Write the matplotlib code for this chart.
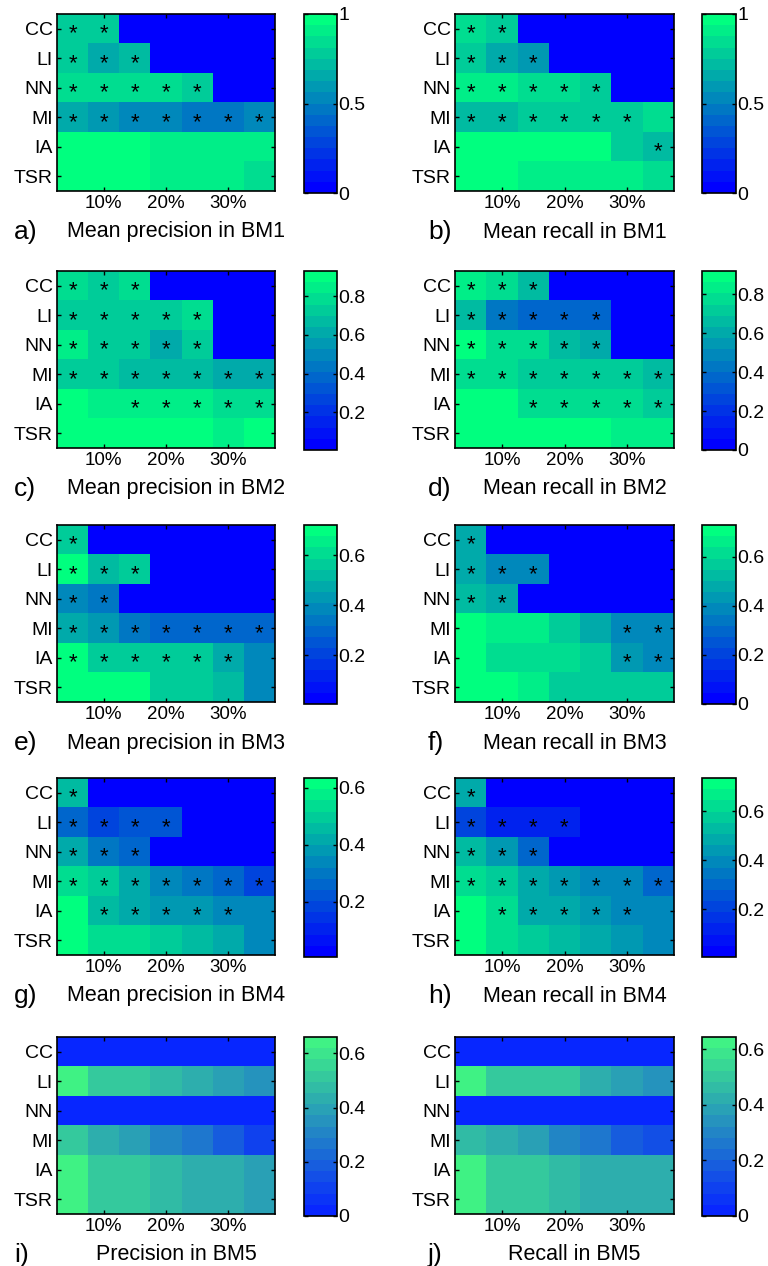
import numpy as np
import matplotlib
matplotlib.use("Agg")
import matplotlib.pyplot as plt
from matplotlib.colors import LinearSegmentedColormap

plt.rcParams["font.family"] = ["Liberation Sans", "DejaVu Sans"]

W, H = 768, 1266
ROWS = ["CC", "LI", "NN", "MI", "IA", "TSR"]
PCT = [5, 10, 15, 20, 25, 30, 35]          # column positions (% of ...)

# ---- values (rows CC..TSR, columns 5%..35%) ----
a_vals = [[0.80, 0.80, 0, 0, 0, 0, 0],
          [0.75, 0.68, 0.70, 0, 0, 0, 0],
          [0.85, 0.85, 0.83, 0.83, 0.78, 0, 0],
          [0.68, 0.60, 0.50, 0.50, 0.45, 0.45, 0.50],
          [1.00, 1.00, 1.00, 0.93, 0.93, 0.93, 0.88],
          [1.00, 1.00, 1.00, 0.93, 0.93, 0.93, 0.85]]
a_star = [[1, 1, 0, 0, 0, 0, 0], [1, 1, 1, 0, 0, 0, 0], [1, 1, 1, 1, 1, 0, 0],
          [1, 1, 1, 1, 1, 1, 1], [0] * 7, [0] * 7]

b_vals = [[0.85, 0.78, 0, 0, 0, 0, 0],
          [0.75, 0.68, 0.60, 0, 0, 0, 0],
          [0.88, 0.88, 0.85, 0.85, 0.75, 0, 0],
          [0.72, 0.72, 0.80, 0.80, 0.80, 0.80, 0.85],
          [1.00, 1.00, 0.95, 0.95, 0.95, 0.80, 0.70],
          [1.00, 1.00, 0.93, 0.93, 0.93, 0.93, 0.85]]
b_star = [[1, 1, 0, 0, 0, 0, 0], [1, 1, 1, 0, 0, 0, 0], [1, 1, 1, 1, 1, 0, 0],
          [1, 1, 1, 1, 1, 1, 0], [0, 0, 0, 0, 0, 0, 1], [0] * 7]

c_vals = [[0.78, 0.72, 0.80, 0, 0, 0, 0],
          [0.70, 0.70, 0.70, 0.70, 0.80, 0, 0],
          [0.82, 0.75, 0.75, 0.62, 0.70, 0, 0],
          [0.72, 0.72, 0.68, 0.68, 0.68, 0.62, 0.62],
          [0.92, 0.85, 0.85, 0.85, 0.85, 0.78, 0.78],
          [0.93, 0.93, 0.93, 0.93, 0.93, 0.85, 0.93]]
c_star = [[1, 1, 1, 0, 0, 0, 0], [1, 1, 1, 1, 1, 0, 0], [1, 1, 1, 1, 1, 0, 0],
          [1, 1, 1, 1, 1, 1, 1], [0, 0, 1, 1, 1, 1, 1], [0] * 7]

d_vals = [[0.82, 0.75, 0.68, 0, 0, 0, 0],
          [0.65, 0.42, 0.38, 0.40, 0.40, 0, 0],
          [0.90, 0.78, 0.75, 0.68, 0.62, 0, 0],
          [0.75, 0.75, 0.72, 0.72, 0.72, 0.72, 0.65],
          [0.88, 0.88, 0.80, 0.80, 0.80, 0.80, 0.70],
          [0.88, 0.88, 0.92, 0.92, 0.92, 0.85, 0.85]]
d_star = c_star

e_vals = [[0.55, 0, 0, 0, 0, 0, 0],
          [0.70, 0.52, 0.55, 0, 0, 0, 0],
          [0.40, 0.35, 0, 0, 0, 0, 0],
          [0.48, 0.42, 0.35, 0.30, 0.30, 0.28, 0.30],
          [0.68, 0.55, 0.55, 0.55, 0.55, 0.48, 0.38],
          [0.70, 0.70, 0.70, 0.58, 0.58, 0.50, 0.38]]
e_star = [[1, 0, 0, 0, 0, 0, 0], [1, 1, 1, 0, 0, 0, 0], [1, 1, 0, 0, 0, 0, 0],
          [1, 1, 1, 1, 1, 1, 1], [1, 1, 1, 1, 1, 1, 0], [0] * 7]

f_vals = [[0.48, 0, 0, 0, 0, 0, 0],
          [0.48, 0.38, 0.38, 0, 0, 0, 0],
          [0.52, 0.48, 0, 0, 0, 0, 0],
          [0.72, 0.65, 0.65, 0.55, 0.50, 0.38, 0.38],
          [0.72, 0.62, 0.62, 0.60, 0.58, 0.45, 0.40],
          [0.70, 0.70, 0.65, 0.55, 0.55, 0.55, 0.55]]
f_star = [[1, 0, 0, 0, 0, 0, 0], [1, 1, 1, 0, 0, 0, 0], [1, 1, 0, 0, 0, 0, 0],
          [0, 0, 0, 0, 0, 1, 1], [0, 0, 0, 0, 0, 1, 1], [0] * 7]

g_vals = [[0.45, 0, 0, 0, 0, 0, 0],
          [0.25, 0.20, 0.22, 0.22, 0, 0, 0],
          [0.40, 0.30, 0.28, 0, 0, 0, 0],
          [0.55, 0.50, 0.42, 0.35, 0.30, 0.25, 0.20],
          [0.62, 0.45, 0.42, 0.38, 0.38, 0.32, 0.32],
          [0.62, 0.52, 0.52, 0.48, 0.45, 0.40, 0.32]]
g_star = [[1, 0, 0, 0, 0, 0, 0], [1, 1, 1, 1, 0, 0, 0], [1, 1, 1, 0, 0, 0, 0],
          [1, 1, 1, 1, 1, 1, 1], [0, 1, 1, 1, 1, 1, 0], [0] * 7]

h_vals = [[0.48, 0, 0, 0, 0, 0, 0],
          [0.22, 0.12, 0.12, 0.10, 0, 0, 0],
          [0.55, 0.45, 0.30, 0, 0, 0, 0],
          [0.62, 0.58, 0.50, 0.45, 0.40, 0.38, 0.30],
          [0.72, 0.62, 0.50, 0.50, 0.45, 0.38, 0.38],
          [0.72, 0.62, 0.58, 0.55, 0.50, 0.45, 0.38]]
h_star = g_star

i_vals = [[0.0] * 7,
          [0.62, 0.52, 0.50, 0.48, 0.44, 0.40, 0.36],
          [0.0] * 7,
          [0.50, 0.44, 0.40, 0.32, 0.26, 0.20, 0.12],
          [0.62, 0.52, 0.50, 0.46, 0.44, 0.44, 0.40],
          [0.62, 0.50, 0.50, 0.48, 0.44, 0.44, 0.40]]

j_vals = [[0.0] * 7,
          [0.62, 0.52, 0.50, 0.50, 0.42, 0.40, 0.36],
          [0.0] * 7,
          [0.48, 0.42, 0.38, 0.32, 0.26, 0.20, 0.14],
          [0.62, 0.52, 0.50, 0.46, 0.44, 0.44, 0.42],
          [0.62, 0.52, 0.50, 0.46, 0.44, 0.44, 0.42]]
no_star = [[0] * 7 for _ in range(6)]

winter = plt.get_cmap("winter", 16)
bm5_map = LinearSegmentedColormap.from_list(
    "bm5", [(0.03, 0.15, 1.0), (0.25, 0.95, 0.52)], N=16)

# (letter, title, values, stars, vmin, vmax, cbar ticks, cbar labels, cmap, column, row)
PANELS = [
    ("a)", "Mean precision in BM1", a_vals, a_star, 0, 1.0, [0, 0.5, 1], ["0", "0.5", "1"], winter, 0, 0),
    ("b)", "Mean recall in BM1", b_vals, b_star, 0, 1.0, [0, 0.5, 1], ["0", "0.5", "1"], winter, 1, 0),
    ("c)", "Mean precision in BM2", c_vals, c_star, 0.005, 0.93, [0.2, 0.4, 0.6, 0.8], None, winter, 0, 1),
    ("d)", "Mean recall in BM2", d_vals, d_star, 0, 0.92, [0, 0.2, 0.4, 0.6, 0.8], None, winter, 1, 1),
    ("e)", "Mean precision in BM3", e_vals, e_star, 0.005, 0.72, [0.2, 0.4, 0.6], None, winter, 0, 2),
    ("f)", "Mean recall in BM3", f_vals, f_star, 0, 0.73, [0, 0.2, 0.4, 0.6], None, winter, 1, 2),
    ("g)", "Mean precision in BM4", g_vals, g_star, 0.005, 0.635, [0.2, 0.4, 0.6], None, winter, 0, 3),
    ("h)", "Mean recall in BM4", h_vals, h_star, 0.005, 0.735, [0.2, 0.4, 0.6], None, winter, 1, 3),
    ("i)", "Precision in BM5", i_vals, no_star, 0, 0.66, [0, 0.2, 0.4, 0.6], None, bm5_map, 0, 4),
    ("j)", "Recall in BM5", j_vals, no_star, 0, 0.645, [0, 0.2, 0.4, 0.6], None, bm5_map, 1, 4),
]

ROW_TOP = [14, 271, 525, 778, 1037]
AX_X = [(57, 275), (455, 674)]
CB_X = [(304, 337), (702, 736)]
AX_H = 177
LETTER_X = [14, 428]


def rect(x0, y0, x1, y1):
    return [x0 / W, 1 - y1 / H, (x1 - x0) / W, (y1 - y0) / H]


fig = plt.figure(figsize=(W / 100, H / 100), dpi=100)

for letter, title, vals, stars, vmin, vmax, cticks, clabels, cmap, col, row in PANELS:
    top = ROW_TOP[row]
    x0, x1 = AX_X[col]
    ax = fig.add_axes(rect(x0, top, x1, top + AX_H))
    arr = np.array(vals)
    ax.imshow(arr, cmap=cmap, vmin=vmin, vmax=vmax, aspect="auto",
              interpolation="nearest",
              extent=[PCT[0] - 2.5, PCT[-1] + 2.5, len(ROWS) + 0.5, 0.5])
    st = np.array(stars)
    for r in range(len(ROWS)):
        for c in range(len(PCT)):
            if st[r, c]:
                ax.text(PCT[c], r + 1 + 0.18, "*", ha="center", va="center",
                        fontsize=16, color="black")
    ax.set_yticks(range(1, len(ROWS) + 1))
    ax.set_yticklabels(ROWS, fontsize=14)
    ax.set_xticks([10, 20, 30])
    ax.set_xticklabels(["10%", "20%", "30%"], fontsize=13.5)
    ax.tick_params(direction="in", length=3, width=1, top=True, right=True, pad=3)
    for sp in ax.spines.values():
        sp.set_linewidth(1.2)

    cx0, cx1 = CB_X[col]
    cax = fig.add_axes(rect(cx0, top, cx1, top + AX_H + 2))
    cb = fig.colorbar(ax.images[0], cax=cax, ticks=cticks)
    if clabels is None:
        clabels = [f"{t:g}" for t in cticks]
    cb.ax.set_yticklabels(clabels, fontsize=14)
    cb.ax.tick_params(direction="in", length=3, width=1, left=True, right=True, pad=1)
    cb.outline.set_linewidth(1.2)

    ty = top + AX_H + 41
    fig.text(LETTER_X[col] / W, 1 - ty / H, letter, fontsize=19, va="center", ha="left")
    fig.text((x0 + x1) / 2 / W + 10 / W, 1 - ty / H, title, fontsize=15.5,
             va="center", ha="center")

fig.savefig("out.png", dpi=100)
